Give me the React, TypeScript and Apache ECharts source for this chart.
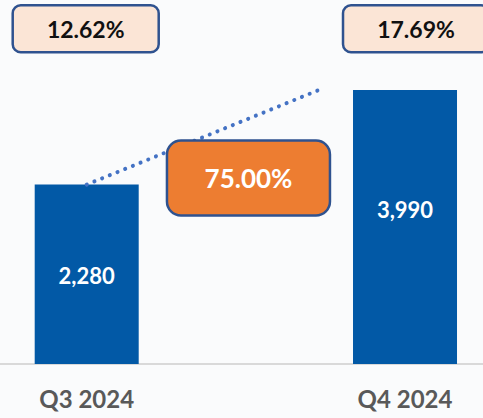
import React, { useEffect, useRef } from 'react';
import * as echarts from 'echarts';

// ---- data ----
const categories = ['Q3 2024', 'Q4 2024'];
const revenue = [2280, 3990];
const shares = [12.62, 17.69];
const growthPct = 75.0;
const growthAt = [0.5];
const trendEnd = [0.73, 3990];

// ---- layout / style constants ----
const Y_MIN = -960;
const Y_MAX = 5000;
const LABEL_AXIS_MAX = 4250;
const BAR_W = 104;
const SHARE_SHIFT = [-1, 11];
const FONT = 'Lato';

export default function App() {
  const ref = useRef<HTMLDivElement>(null);
  useEffect(() => {
    const chart = echarts.init(ref.current!, undefined, { renderer: 'svg' });
    const option: any = {
      animation: false,
      backgroundColor: '#fafbfc',
      grid: { left: 0, right: 0, top: 34, bottom: 54 },
      xAxis: {
        type: 'value',
        min: -0.2724,
        max: 1.245,
        splitLine: { show: false },
        axisTick: { show: false },
        axisLine: { show: true, onZero: false, lineStyle: { color: '#d9d9d9', width: 2 } },
        axisLabel: {
          customValues: [0, 1],
          formatter: (v: number) => categories[Math.round(v)] ?? '',
          color: '#595959',
          fontFamily: FONT,
          fontWeight: 'bold',
          fontSize: 24,
          margin: 22,
        },
      },
      yAxis: [
        { type: 'value', min: Y_MIN, max: Y_MAX, show: false, splitLine: { show: false } },
        { type: 'value', min: 0, max: LABEL_AXIS_MAX, show: false, splitLine: { show: false } },
      ],
      series: [
        {
          type: 'custom',
          name: 'bars',
          z: 2,
          clip: false,
          data: revenue.map((v, i) => [i, v]),
          renderItem: (params: any, api: any) => {
            const i = api.value(0);
            const v = api.value(1);
            const top = api.coord([i, v]);
            const bot = api.coord([i, Y_MIN]);
            return {
              type: 'rect',
              shape: { x: top[0] - BAR_W / 2, y: top[1], width: BAR_W, height: bot[1] - top[1] },
              style: { fill: '#0259A6' },
            };
          },
        },
        {
          type: 'custom',
          name: 'barLabels',
          yAxisIndex: 1,
          z: 4,
          clip: false,
          silent: true,
          data: revenue.map((v, i) => [i, v / 2, v]),
          renderItem: (params: any, api: any) => {
            const c = api.coord([api.value(0), api.value(1)]);
            return {
              type: 'text',
              x: c[0],
              y: c[1],
              style: {
                text: Number(api.value(2)).toLocaleString('en-US'),
                fill: '#ffffff',
                fontFamily: FONT,
                fontWeight: 'bold',
                fontSize: 22,
                align: 'center',
                verticalAlign: 'middle',
              },
            };
          },
        },
        {
          type: 'line',
          name: 'trend',
          z: 3,
          symbol: 'none',
          silent: true,
          data: [[0, revenue[0]], trendEnd],
          lineStyle: { color: '#4472C4', width: 4, type: [0.1, 8.2], cap: 'round' },
        },
        {
          type: 'custom',
          name: 'shares',
          z: 5,
          clip: false,
          data: shares.map((s, i) => [i, s]),
          renderItem: (params: any, api: any) => {
            const i = api.value(0);
            const s = api.value(1);
            const c = api.coord([i, 0]);
            const cx = c[0] + SHARE_SHIFT[params.dataIndex];
            return {
              type: 'rect',
              shape: { x: cx - 73, y: 5.3, width: 146, height: 47, r: 8 },
              style: { fill: '#FBE5D6', stroke: '#2F528F', lineWidth: 2.5 },
              textContent: {
                style: {
                  text: s.toFixed(2) + '%',
                  fill: '#111111',
                  fontFamily: FONT,
                  fontWeight: 'bold',
                  fontSize: 23,
                },
              },
              textConfig: { position: 'inside' },
            };
          },
        },
        {
          type: 'custom',
          name: 'growth',
          z: 6,
          clip: false,
          data: [[growthAt[0], growthPct]],
          renderItem: (params: any, api: any) => {
            const x = api.value(0);
            const g = api.value(1);
            const c = api.coord([x, 0]);
            const cx = c[0] + 2.6;
            return {
              type: 'rect',
              shape: { x: cx - 81.5, y: 140.5, width: 163, height: 75, r: 14 },
              style: { fill: '#ED7D31', stroke: '#2F528F', lineWidth: 2.5 },
              textContent: {
                style: {
                  text: g.toFixed(2) + '%',
                  fill: '#ffffff',
                  fontFamily: FONT,
                  fontWeight: 'bold',
                  fontSize: 26,
                },
              },
              textConfig: { position: 'inside' },
            };
          },
        },
      ],
    };
    chart.setOption(option);
    return () => chart.dispose();
  }, []);
  return (
    <div
      ref={ref}
      style={{ position: 'absolute', left: 0, top: 0, width: 483, height: 418 }}
    />
  );
}
